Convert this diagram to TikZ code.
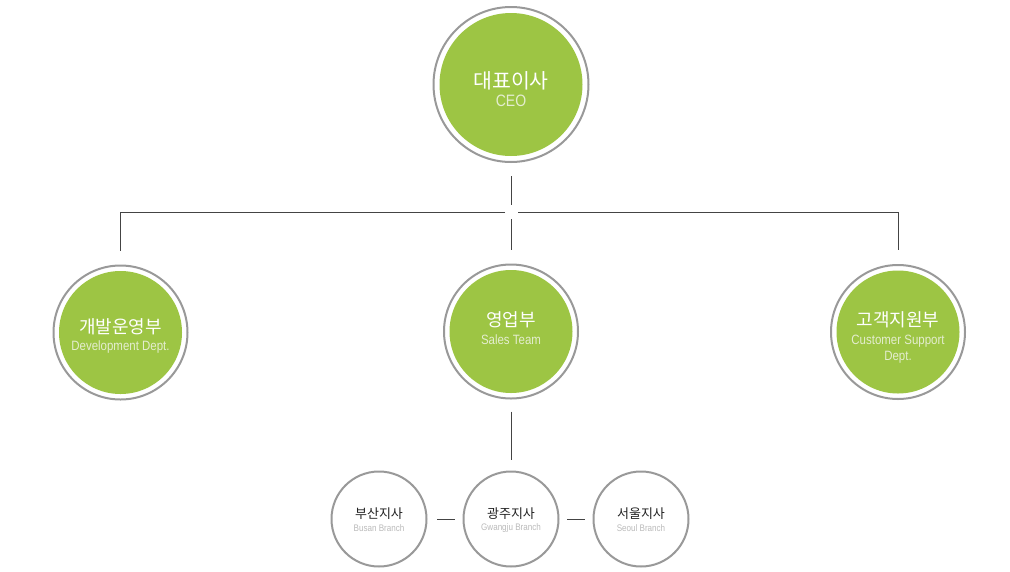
\documentclass[tikz,border=0pt]{standalone}
\usepackage{fontspec}
\setmainfont{Liberation Sans}
\newfontfamily\krfont{Noto Sans CJK KR}
\newfontfamily\enfont{Liberation Sans}[FakeStretch=0.85]
\usepackage{tikz}
\usetikzlibrary{positioning}

\definecolor{leaf}{HTML}{9DC544}
\definecolor{ringgray}{HTML}{999999}
\definecolor{linegray}{HTML}{444444}
\definecolor{palefont}{HTML}{E4EDCF}
\definecolor{branchfont}{HTML}{BBBBBB}
\definecolor{darkfont}{HTML}{222222}

\begin{document}
\begin{tikzpicture}[x=1pt, y=-1pt,
  ring/.style={circle, draw=ringgray, line width=2pt, fill=white, inner sep=0pt},
  disc/.style={circle, fill=leaf, inner sep=0pt},
  link/.style={draw=linegray, line width=1pt},
  bigkr/.style={font=\krfont\fontsize{20.5}{22}\selectfont, text=white},
  deptkr/.style={font=\krfont\fontsize{18}{20}\selectfont, text=white},
  deptEn/.style={font=\enfont\fontsize{13.5}{16}\selectfont, text=palefont, align=center},
  branchkr/.style={font=\krfont\fontsize{13}{15}\selectfont, text=darkfont},
  branchEn/.style={font=\enfont\fontsize{9.5}{11}\selectfont, text=branchfont}]
\useasboundingbox (0,0) rectangle (1010,571);

% CEO
\node[ring, minimum size=155pt] (ceo) at (511,84.5) {};
\node[disc, minimum size=143pt] (ceoDisc) at (ceo) {};
\node[bigkr] (ceoKr) at (511,81) {대표이사};
\node[deptEn, font=\enfont\fontsize{16.5}{18}\selectfont] (ceoEn) at (511,101) {CEO};

% Departments
\node[ring, minimum size=134pt] (dev) at (120.5,332.5) {};
\node[disc, minimum size=123pt] (devDisc) at (dev) {};
\node[deptkr] (devKr) at (120.5,327) {개발운영부};
\node[deptEn] (devEn) at (120.5,347) {Development Dept.};

\node[ring, minimum size=134pt] (sales) at (511,331.5) {};
\node[disc, minimum size=123pt] (salesDisc) at (sales) {};
\node[deptkr] (salesKr) at (511,320) {영업부};
\node[deptEn] (salesEn) at (511,340) {Sales Team};

\node[ring, minimum size=134pt] (cs) at (898,332) {};
\node[disc, minimum size=123pt] (csDisc) at (cs) {};
\node[deptkr] (csKr) at (898,320) {고객지원부};
\node[deptEn] (csEn) at (898,341) {Customer Support};
\node[deptEn] (csEn2) at (898,357) {Dept.};

% Branches
\node[ring, minimum size=95pt] (busan) at (379,519) {};
\node[branchkr] (busanKr) at (379,514) {부산지사};
\node[branchEn] (busanEn) at (379,528.5) {Busan Branch};

\node[ring, minimum size=95pt] (gwangju) at (511,519) {};
\node[branchkr] (gwangjuKr) at (511,514) {광주지사};
\node[branchEn] (gwangjuEn) at (511,528.5) {Gwangju Branch};

\node[ring, minimum size=95pt] (seoul) at (641,519) {};
\node[branchkr] (seoulKr) at (641,514) {서울지사};
\node[branchEn] (seoulEn) at (641,528.5) {Seoul Branch};

% Connectors
\coordinate (hub) at (511,212);
\path[link] ([yshift=-13pt]ceo.south) -- ([yshift=7pt]hub);
\path[link] ([xshift=-6pt]hub) -| ([yshift=14pt]dev.north);
\path[link] ([xshift=7pt]hub) -| ([yshift=14pt]cs.north);
\path[link] ([yshift=-7pt]hub) -- ([yshift=14pt]sales.north);
\path[link] ([yshift=-12pt]sales.south) -- ([yshift=11pt]gwangju.north);
\path[link, shorten <=9.5pt, shorten >=7.5pt] (busan) -- (gwangju);
\path[link, shorten <=7.5pt, shorten >=7.5pt] (gwangju) -- (seoul);
\end{tikzpicture}
\end{document}
